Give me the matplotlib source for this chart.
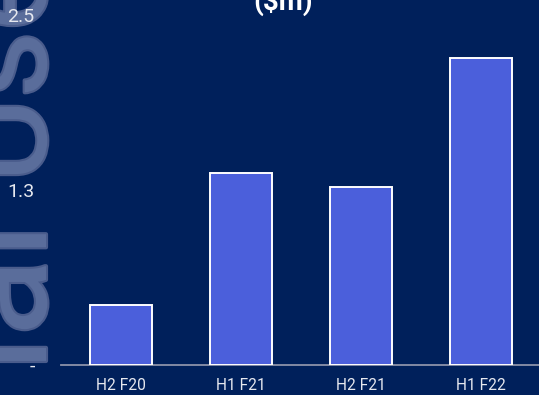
import matplotlib
matplotlib.use("Agg")
from matplotlib import pyplot as plt
import matplotlib.patheffects as pe

periods = ["H2 F20", "H1 F21", "H2 F21", "H1 F22"]
revenue = [0.43, 1.37, 1.27, 2.19]
y_ticks = [0, 1.25, 2.5]
y_labels = ["-", "1.3", "2.5"]

bg = "#00205B"
plt.rcParams["font.family"] = ["Roboto", "DejaVu Sans"]

fig = plt.figure(figsize=(5.39, 3.95), dpi=100, facecolor=bg)
ax = fig.add_axes([61 / 539, 30 / 395, 480 / 539, 371 / 395])
ax.set_facecolor(bg)
ax.set_zorder(1)

ax.bar(range(len(periods)), revenue, width=0.51, color="#4B5FDB",
       edgecolor="white", linewidth=1.4, zorder=3)

ax.set_xlim(-0.5, 3.5)
ax.set_ylim(0, 2.65)
ax.set_xticks(range(len(periods)))
ax.set_xticklabels(periods, fontsize=11.2)
ax.set_yticks(y_ticks)
ax.set_yticklabels(y_labels, fontsize=14)
ax.tick_params(axis="both", length=0, colors="#E6E8EF")
ax.tick_params(axis="x", pad=9.5)
ax.tick_params(axis="y", pad=19)

for side in ["top", "right", "left"]:
    ax.spines[side].set_visible(False)
ax.spines["bottom"].set_color("#8C93AA")
ax.spines["bottom"].set_linewidth(1.3)

# big faded side label, cut off by the figure edge
wm = dict(rotation=90, ha="left", va="baseline", rotation_mode="anchor",
          color="#5A6D9B", zorder=0,
          path_effects=[pe.withStroke(linewidth=3, foreground="#4A5C8C")])
fig.text(46 / 539, 1 - 372 / 395, "ial", fontsize=104, **wm)
fig.text(46 / 539, 1 - 183 / 395, "Use", fontsize=94, **wm)

fig.text(283 / 539, 1 - 10 / 395, "($m)", ha="center", va="baseline",
         fontsize=20, fontweight="bold", color="white")

plt.savefig("out.png", facecolor=bg)
